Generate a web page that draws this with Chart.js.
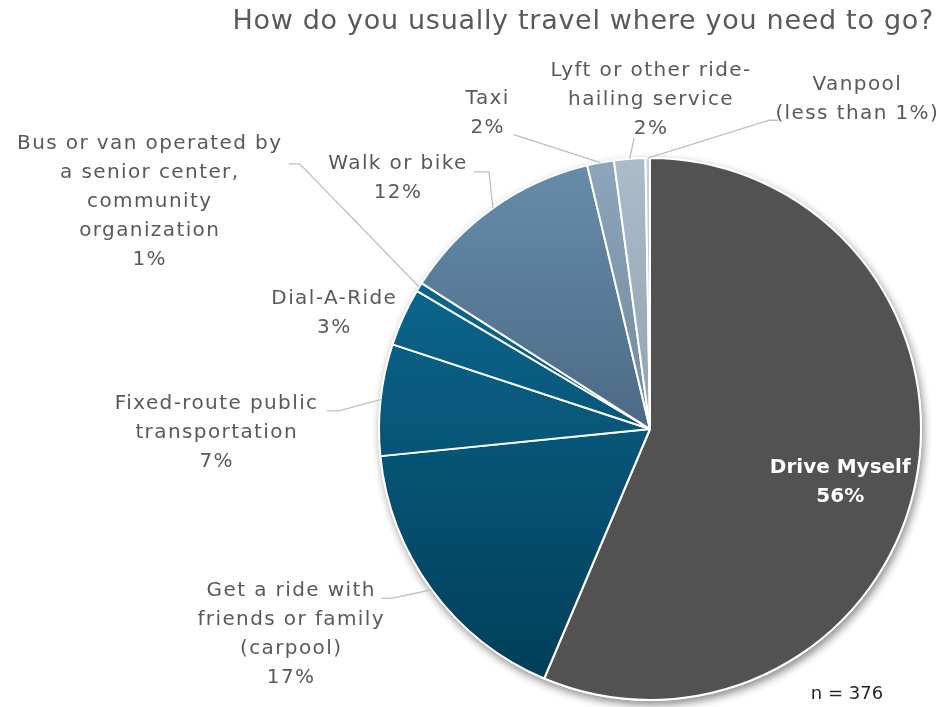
<!DOCTYPE html>
<html lang="en">
<head>
<meta charset="utf-8">
<title>How do you usually travel where you need to go?</title>
<script src="https://cdn.jsdelivr.net/npm/chart.js@4.4.1/dist/chart.umd.min.js"></script>
<style>
  html, body { margin: 0; padding: 0; background: #fff; }
  .wrapper { width: 938px; height: 707px; position: relative; }
</style>
</head>
<body>
<div class="wrapper"><canvas id="chart-0"></canvas></div>
<script>
const chartTitle = 'How do you usually travel where you need to go?';
const sampleNote = 'n = 376';

const categories = [
  ['Drive Myself'],
  ['Get a ride with', 'friends or family', '(carpool)'],
  ['Fixed-route public', 'transportation'],
  ['Dial-A-Ride'],
  ['Bus or van operated by', 'a senior center,', 'community', 'organization'],
  ['Walk or bike'],
  ['Taxi'],
  ['Lyft or other ride-', 'hailing service'],
  ['Vanpool']
];
// respondents giving each answer (n = 376)
const responses = [212, 64, 25, 13, 2, 46, 6, 7, 1];

// vertical gradient stops for each slice
const sliceTop = ['#525252', '#0e729b', '#0e729b', '#0e729b', '#0e729b', '#678dab', '#8ea6bb', '#abbccb', '#c9d3dd'];
const sliceBottom = ['#525252', '#003c57', '#003c57', '#003c57', '#003c57', '#31465e', '#53697e', '#73889a', '#9aa8b5'];

// label centre relative to the pie centre (in radii), leader points relative to the label (px)
const labelPlacement = [
  { x: 0.702, y: 0.195, inside: true },
  { x: -1.324, y: 0.756, leader: [[100, -35.5], [90, -35.5]] },
  { x: -1.599, y: 0.014, leader: [[122, -22], [110, -22]] },
  { x: -1.165, y: -0.426 },
  { x: -1.846, y: -0.838, leader: [[150, -38], [139, -38]] },
  { x: -0.930, y: -0.925, leader: [[91, -6.5], [76, -6.5]] },
  { x: -0.599, y: -1.164, leader: [[26, 21]] },
  { x: 0.004, y: -1.214, leader: [[-17, 38]] },
  { x: 0.765, y: -1.215, leader: [[-88, 20.5], [-79, 20.5]] }
];

const total = responses.reduce((a, b) => a + b, 0);
const labelFont = '"DejaVu Sans", sans-serif';

function percentText(v) {
  const pct = Math.round(v / total * 100);
  return pct < 1 ? '(less than 1%)' : pct + '%';
}

function sliceFill(context) {
  const chart = context.chart;
  const area = chart.chartArea;
  const i = context.dataIndex;
  if (!area) return sliceTop[i];
  const g = chart.ctx.createLinearGradient(0, area.top, 0, area.bottom);
  g.addColorStop(0, sliceTop[i]);
  g.addColorStop(1, sliceBottom[i]);
  return g;
}

// soft drop shadow under the whole pie
const pieShadow = {
  id: 'pieShadow',
  beforeDatasetsDraw(chart) {
    const arc = chart.getDatasetMeta(0).data[0];
    if (!arc) return;
    const { x, y, outerRadius } = arc.getProps(['x', 'y', 'outerRadius'], true);
    const ctx = chart.ctx;
    ctx.save();
    ctx.shadowColor = 'rgba(0, 0, 0, 0.45)';
    ctx.shadowBlur = 9;
    ctx.shadowOffsetX = 2;
    ctx.shadowOffsetY = 4;
    ctx.fillStyle = '#fff';
    ctx.beginPath();
    ctx.arc(x, y, outerRadius + 1, 0, Math.PI * 2);
    ctx.fill();
    ctx.restore();
  }
};

// category + percentage labels, leader lines, title and sample size
const sliceLabels = {
  id: 'sliceLabels',
  afterDatasetsDraw(chart) {
    const ctx = chart.ctx;
    const meta = chart.getDatasetMeta(0);
    const lineH = 29;
    ctx.save();
    ctx.textAlign = 'center';
    ctx.textBaseline = 'middle';

    meta.data.forEach((arc, i) => {
      const { x, y, outerRadius, startAngle, endAngle } =
        arc.getProps(['x', 'y', 'outerRadius', 'startAngle', 'endAngle'], true);
      const mid = (startAngle + endAngle) / 2;
      const p = labelPlacement[i];
      const lx = x + p.x * outerRadius;
      const ly = y + p.y * outerRadius;

      if (p.leader) {
        ctx.strokeStyle = '#bfbfbf';
        ctx.lineWidth = 1.3;
        ctx.beginPath();
        ctx.moveTo(x + Math.cos(mid) * outerRadius, y + Math.sin(mid) * outerRadius);
        p.leader.forEach(([dx, dy]) => ctx.lineTo(lx + dx, ly + dy));
        ctx.stroke();
      }

      const lines = categories[i].concat([percentText(responses[i])]);
      if (p.inside) {
        ctx.fillStyle = '#ffffff';
        ctx.font = 'bold 20px ' + labelFont;
        ctx.letterSpacing = '0px';
      } else {
        ctx.fillStyle = '#595959';
        ctx.font = '20px ' + labelFont;
        ctx.letterSpacing = '1.4px';
      }
      const top = ly - (lines.length - 1) * lineH / 2;
      lines.forEach((t, k) => ctx.fillText(t, lx, top + k * lineH));
    });

    ctx.fillStyle = '#595959';
    ctx.font = '27px ' + labelFont;
    ctx.letterSpacing = '0.7px';
    ctx.textAlign = 'right';
    ctx.fillText(chartTitle, 934, 22);

    ctx.fillStyle = '#262626';
    ctx.font = '18px ' + labelFont;
    ctx.letterSpacing = '0px';
    ctx.textAlign = 'center';
    ctx.fillText(sampleNote, 847, 694);
    ctx.restore();
  }
};

new Chart('chart-0', {
  type: 'pie',
  data: {
    labels: categories,
    datasets: [{
      data: responses,
      backgroundColor: sliceFill,
      borderColor: '#ffffff',
      borderWidth: 2
    }]
  },
  options: {
    responsive: true,
    maintainAspectRatio: false,
    animation: false,
    events: [],
    layout: { padding: { left: 378, right: 16, top: 157, bottom: 6 } },
    plugins: {
      legend: { display: false },
      title: { display: false },
      tooltip: { enabled: false }
    }
  },
  plugins: [pieShadow, sliceLabels]
});
</script>
</body>
</html>
